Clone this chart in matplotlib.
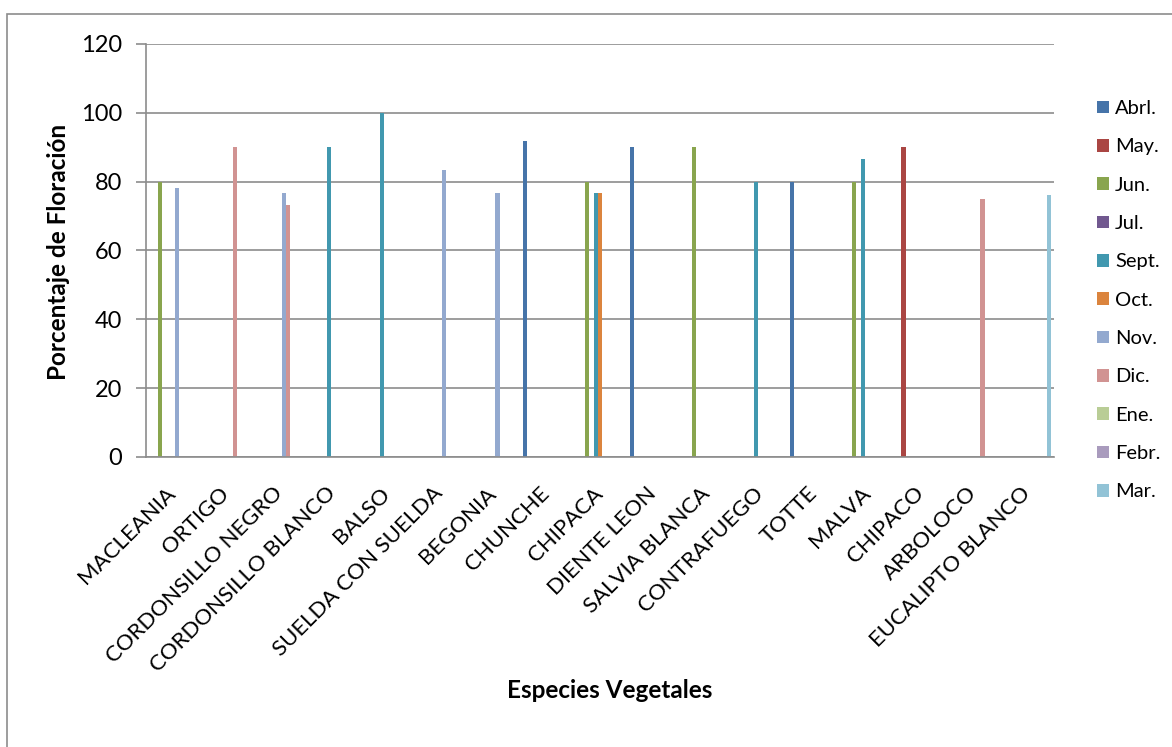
import matplotlib.pyplot as plt
from matplotlib.patches import Rectangle
import numpy as np

plt.rcParams['font.family'] = ['Lato', 'DejaVu Sans']

especies = ['MACLEANIA', 'ORTIGO', 'CORDONSILLO NEGRO', 'CORDONSILLO BLANCO',
            'BALSO', 'SUELDA CON SUELDA', 'BEGONIA', 'CHUNCHE', 'CHIPACA',
            'DIENTE LEON', 'SALVIA BLANCA', 'CONTRAFUEGO', 'TOTTE', 'MALVA',
            'CHIPACO', 'ARBOLOCO', 'EUCALIPTO BLANCO']

meses = ['Abrl.', 'May.', 'Jun.', 'Jul.', 'Sept.', 'Oct.', 'Nov.', 'Dic.',
         'Ene.', 'Febr.', 'Mar.']

#        MAC  ORT  CNE   CBL  BAL  SUE   BEG   CHU   CHI   DIE  SAL  CON  TOT  MAL   CHP  ARB  EUC
abrl  = [0,   0,   0,    0,   0,   0,    0,    91.7, 0,    90,  0,   0,   80,  0,    0,   0,   0]
may   = [0,   0,   0,    0,   0,   0,    0,    0,    0,    0,   0,   0,   0,   0,    90,  0,   0]
jun   = [80,  0,   0,    0,   0,   0,    0,    0,    80,   0,   90,  0,   0,   80,   0,   0,   0]
jul   = [0,   0,   0,    0,   0,   0,    0,    0,    0,    0,   0,   0,   0,   0,    0,   0,   0]
sept  = [0,   0,   0,    90,  100, 0,    0,    0,    76.7, 0,   0,   80,  0,   86.7, 0,   0,   0]
octu  = [0,   0,   0,    0,   0,   0,    0,    0,    76.7, 0,   0,   0,   0,   0,    0,   0,   0]
nov   = [78.3, 0,  76.7, 0,   0,   83.3, 76.7, 0,    0,    0,   0,   0,   0,   0,    0,   0,   0]
dic   = [0,   90,  73.3, 0,   0,   0,    0,    0,    0,    0,   0,   0,   0,   0,    0,   75,  0]
ene   = [0,   0,   0,    0,   0,   0,    0,    0,    0,    0,   0,   0,   0,   0,    0,   0,   0]
febr  = [0,   0,   0,    0,   0,   0,    0,    0,    0,    0,   0,   0,   0,   0,    0,   0,   0]
mar   = [0,   0,   0,    0,   0,   0,    0,    0,    0,    0,   0,   0,   0,   0,    0,   0,   76]

series = [abrl, may, jun, jul, sept, octu, nov, dic, ene, febr, mar]
colores = ['#4674A9', '#AA4643', '#89A54E', '#71588F', '#4198AF', '#DB843D',
           '#93A9CF', '#D19392', '#B9CD96', '#A99BBD', '#92C3D6']

fig = plt.figure(figsize=(11.72, 7.47), dpi=100)
W, H = 1172, 747
ax = fig.add_axes([146 / W, 1 - 457 / H, (1054 - 146) / W, (457 - 44) / H])

# marco del grafico
fig.patches.append(Rectangle((7 / W, -0.05), 1.2, 1 - 14 / H + 0.05,
                             transform=fig.transFigure, fill=False,
                             edgecolor='#8c8c8c', linewidth=1.2))

x = np.arange(len(especies))
ancho = 1 / 12.5
for i, (vals, mes, c) in enumerate(zip(series, meses, colores)):
    ax.bar(x + (i - 5) * ancho, vals, ancho, color=c, label=mes)

ax.set_xlim(-0.5, len(especies) - 0.5)
ax.set_ylim(0, 120)
ax.set_yticks(range(0, 121, 20))
ax.yaxis.grid(True, color='#8c8c8c', linewidth=1.2)
ax.set_axisbelow(True)
for s in ['top', 'right']:
    ax.spines[s].set_visible(False)
for s in ['left', 'bottom']:
    ax.spines[s].set_color('#8c8c8c')
    ax.spines[s].set_linewidth(1.2)

ax.tick_params(axis='y', length=7, color='#8c8c8c', width=1.2, labelsize=17, pad=10)
ax.tick_params(axis='x', length=0, pad=24)
ax.set_xticks(x)
ax.set_xticklabels(especies, rotation=45, ha='right', va='center',
                   rotation_mode='anchor', fontsize=16)

fig.text(610 / W, 1 - 691 / H, 'Especies Vegetales', ha='center', va='center',
         fontsize=17.5, fontweight='bold')
fig.text(58 / W, 1 - 252 / H, 'Porcentaje de Floración', ha='center', va='center',
         rotation=90, fontsize=17.5, fontweight='bold')

ax.legend(loc='upper left', bbox_to_anchor=(1097 / W, 1 - 100 / H),
          bbox_transform=fig.transFigure, frameon=False, fontsize=14.5,
          handlelength=0.6, handleheight=0.6, handletextpad=0.3,
          labelspacing=1.06, borderaxespad=0, borderpad=0)

plt.savefig('out.png', dpi=100)
